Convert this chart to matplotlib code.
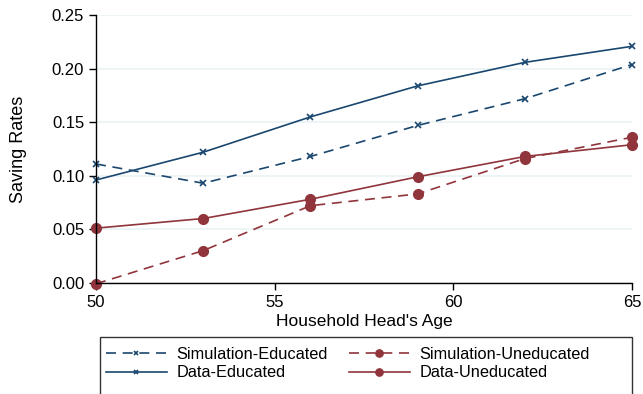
import matplotlib.pyplot as plt
from matplotlib.patches import Rectangle

plt.rcParams['font.family'] = ['Liberation Sans', 'DejaVu Sans']

ages = [50, 53, 56, 59, 62, 65]
sim_educated = [0.111, 0.093, 0.118, 0.147, 0.172, 0.204]
data_educated = [0.096, 0.122, 0.155, 0.184, 0.206, 0.221]
sim_uneducated = [-0.001, 0.030, 0.072, 0.083, 0.116, 0.136]
data_uneducated = [0.051, 0.060, 0.078, 0.099, 0.118, 0.129]

navy = '#1a476f'
maroon = '#90353b'

fig = plt.figure(figsize=(6.43, 3.94), dpi=100)
ax = fig.add_axes([96 / 643, 1 - 282.7 / 394, 536 / 643, (282.7 - 15.3) / 394])

# order so the legend (filled column-wise) reads like the original
ax.plot(ages, sim_educated, color=navy, lw=1.2, ls=(0, (6, 4)), marker='x',
        ms=4, mew=1.2, label='Simulation-Educated', clip_on=False)
ax.plot(ages, data_educated, color=navy, lw=1.2, marker='x',
        ms=4, mew=1.2, label='Data-Educated', clip_on=False)
ax.plot(ages, sim_uneducated, color=maroon, lw=1.2, ls=(0, (6, 4)), marker='o',
        ms=7, label='Simulation-Uneducated', clip_on=False)
ax.plot(ages, data_uneducated, color=maroon, lw=1.2, marker='o',
        ms=7, label='Data-Uneducated', clip_on=False)

ax.set_xlim(50, 65)
ax.set_ylim(0, 0.25)
ax.set_xticks([50, 55, 60, 65])
ax.set_yticks([0, 0.05, 0.10, 0.15, 0.20, 0.25])
ax.set_yticklabels(['0.00', '0.05', '0.10', '0.15', '0.20', '0.25'])
ax.tick_params(labelsize=12, direction='out', length=5, width=1, color='black')
ax.grid(axis='y', color='#eaf2f3', lw=1.2)
ax.set_axisbelow(True)
for s in ['top', 'right']:
    ax.spines[s].set_visible(False)
ax.spines['left'].set_linewidth(1)
ax.spines['bottom'].set_linewidth(1)

ax.set_xlabel("Household Head's Age", fontsize=12.5, labelpad=3)
ax.set_ylabel('Saving Rates', fontsize=13, labelpad=18)

# legend box at the bottom
fig.patches.append(Rectangle((100 / 643, -0.01), 532 / 643, 1 - 337 / 394 + 0.01,
                             transform=fig.transFigure, fill=False,
                             edgecolor='#333333', lw=1))
fig.legend(loc='upper left', bbox_to_anchor=(106 / 643, 1 - 347 / 394),
           ncol=2, frameon=False, fontsize=11.8, handlelength=3.7,
           handletextpad=0.6, columnspacing=1.3, labelspacing=0.2,
           markerscale=0.75, borderaxespad=0, borderpad=0)

fig.savefig('out.png', dpi=100)
